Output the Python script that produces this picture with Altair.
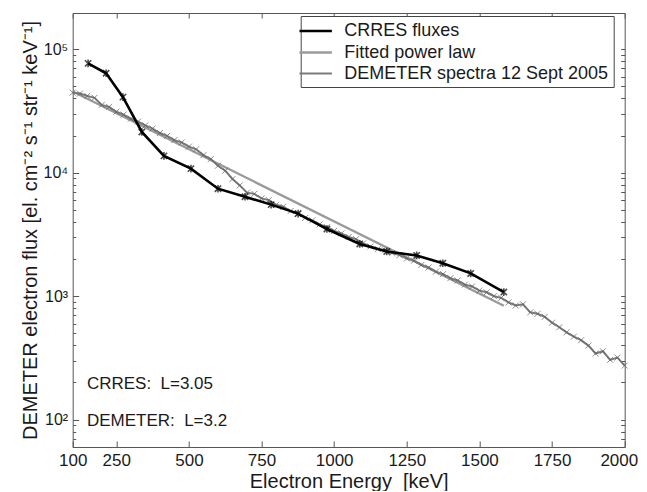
import altair as alt
import pandas as pd

SERIES = ["CRRES fluxes", "Fitted power law", "DEMETER spectra 12 Sept 2005"]
COLORS = ["#000000", "#9a9a9a", "#7a7a7a"]
WIDTHS = [2.6, 2.0, 1.1]

CRRES_E = [153, 215, 273, 338, 414, 507, 600, 693, 783, 876, 975, 1088, 1181, 1284, 1374, 1470, 1584]
CRRES_F = [77000, 64000, 41000, 21400, 13700, 10800, 7430, 6400, 5520, 4670, 3500, 2650, 2300, 2140, 1850, 1530, 1080]

FIT_E = [100, 1584]
FIT_F = [45500, 838]

DEM_E = [100, 125, 150, 175, 200, 225, 250, 275, 300, 325, 350, 375, 400, 425, 450,
         475, 500, 525, 550, 575, 600, 625, 650, 675, 700, 725, 750, 775, 800, 825,
         850, 875, 900, 925, 950, 975, 1000, 1025, 1050, 1075, 1100, 1125, 1150, 1175,
         1200, 1225, 1250, 1275, 1300, 1325, 1350, 1375, 1400, 1425, 1450, 1475, 1500,
         1525, 1550, 1575, 1600, 1625, 1650, 1675, 1700, 1725, 1750, 1775, 1800, 1825,
         1850, 1875, 1900, 1925, 1950, 1975, 2000]
DEM_F = [44600, 43800, 42000, 40500, 35500, 34200, 31200, 29600, 27400, 26000,
         24200, 22800, 21000, 19900, 18400, 17600, 16300, 15500, 13900, 12900,
         11400, 10400, 8900, 7900, 6900, 6750, 6200, 6000, 5500, 5300,
         4900, 4650, 4300, 4120, 3820, 3620, 3380, 3230, 3020, 2900,
         2680, 2530, 2410, 2350, 2240, 2150, 2020, 1940, 1790, 1710,
         1580, 1510, 1400, 1340, 1240, 1200, 1110, 1075, 1000, 970,
         890, 840, 860, 740, 720, 680, 610, 560, 510, 470,
         440, 398, 343, 358, 305, 318, 274]

X_TICKS = [100, 250, 500, 750, 1000, 1250, 1500, 1750, 2000]
Y_TICKS = [100, 1000, 10000, 100000]
Y_TICK_LABELS = ["10²", "10³", "10⁴", "10⁵"]
Y_MINOR = [60, 70, 80, 90, 200, 300, 400, 500, 600, 700, 800, 900,
           2000, 3000, 4000, 5000, 6000, 7000, 8000, 9000,
           20000, 30000, 40000, 50000, 60000, 70000, 80000, 90000]

NOTE_TEXT = ["CRRES:\u00a0 L=3.05", "DEMETER:\u00a0 L=3.2"]
NOTE_E = [149, 149]
NOTE_F = [195, 97]

FONT = "Liberation Sans"

rows = []
for e, f in zip(CRRES_E, CRRES_F):
    rows.append({"series": SERIES[0], "E": e, "F": f})
for e, f in zip(FIT_E, FIT_F):
    rows.append({"series": SERIES[1], "E": e, "F": f})
for e, f in zip(DEM_E, DEM_F):
    rows.append({"series": SERIES[2], "E": e, "F": f})
df = pd.DataFrame(rows)
notes = pd.DataFrame({"text": NOTE_TEXT, "E": NOTE_E, "F": NOTE_F})

xscale = alt.Scale(domain=[100, 2000], nice=False, zero=False)
yscale = alt.Scale(type="log", domain=[60, 197000], nice=False)

label_expr = " : ".join(
    f"datum.value == {v} ? '{t}'" for v, t in zip(Y_TICKS, Y_TICK_LABELS)
) + " : ''"

last_x = X_TICKS[-1]

legend = alt.Legend(
    title=None, orient="none", legendX=228, legendY=3,
    symbolType="M-1.8,0L1.8,0", symbolSize=324, labelFont=FONT, labelFontSize=18,
    labelColor="#1a1a1a", labelLimit=400, labelOffset=18, rowPadding=1.5,
    padding=4.5, strokeColor="#444444", fillColor="white",
)
color = alt.Color("series:N", scale=alt.Scale(domain=SERIES, range=COLORS), legend=legend)
swidth = alt.StrokeWidth("series:N", scale=alt.Scale(domain=SERIES, range=WIDTHS), legend=legend)

base = alt.Chart(df)

fit_line = base.transform_filter(alt.datum.series == SERIES[1]).mark_line().encode(
    x=alt.X("E:Q", scale=xscale, axis=alt.Axis(
        orient="bottom", values=X_TICKS, format="d", domain=False, offset=-6,
        tickSize=6, tickColor="#555", labelFont=FONT, labelFontSize=17,
        labelColor="#1a1a1a", labelPadding=6, labelFlush=False, grid=False,
        labelAlign={"condition": {"test": f"datum.value == {last_x}", "value": "right"},
                    "value": "center"},
        labelOffset={"condition": {"test": f"datum.value == {last_x}", "value": 13},
                     "value": 0},
        title="Electron Energy\u00a0 [keV]", titleFont=FONT, titleFontSize=20,
        titleFontWeight="normal", titleColor="#1a1a1a", titleBaseline="alphabetic",
        titleY=47)),
    y=alt.Y("F:Q", scale=yscale, axis=alt.Axis(
        orient="left", values=Y_TICKS, labelExpr=label_expr, domain=False,
        offset=-6, tickSize=6, tickColor="#555", labelFont=FONT, labelFontSize=16,
        labelColor="#1a1a1a", labelPadding=5, labelFlush=False, grid=False,
        title="DEMETER electron flux [el. cm⁻² s⁻¹ str⁻¹ keV⁻¹]",
        titleFont=FONT, titleFontSize=20, titleFontWeight="normal",
        titleColor="#1a1a1a", titleX=-48, titleY=217, titleAlign="center",
        titleBaseline="middle", titleAngle=270)),
    color=color, strokeWidth=swidth,
)

dem_line = base.transform_filter(alt.datum.series == SERIES[2]).mark_line().encode(
    x=alt.X("E:Q", scale=xscale, axis=alt.Axis(
        orient="top", values=X_TICKS, labels=False, domain=False, offset=-5,
        tickSize=5, tickColor="#555", grid=False, title="")),
    y=alt.Y("F:Q", scale=yscale, axis=alt.Axis(
        orient="right", values=Y_TICKS + Y_MINOR, labels=False, domain=False,
        offset=-4, tickSize=4, tickColor="#555", grid=False, title="")),
    color=color, strokeWidth=swidth,
)

crres_line = base.transform_filter(alt.datum.series == SERIES[0]).mark_line().encode(
    x=alt.X("E:Q", scale=xscale, axis=None),
    y=alt.Y("F:Q", scale=yscale, axis=alt.Axis(
        orient="left", values=Y_MINOR, labels=False, domain=False,
        offset=-3, tickSize=3, tickColor="#555", grid=False, title="")),
    color=color, strokeWidth=swidth,
)

dem_pts = base.transform_filter(alt.datum.series == SERIES[2]).mark_point(
    shape="M-1,-1L1,1M1,-1L-1,1", size=36, filled=False, strokeWidth=1.0,
    color="#5e5e5e",
).encode(
    x=alt.X("E:Q", scale=xscale, axis=None),
    y=alt.Y("F:Q", scale=yscale, axis=None),
)

crres_pts = base.transform_filter(alt.datum.series == SERIES[0]).mark_point(
    shape="M-1,-1L1,1M1,-1L-1,1M0,-1.2L0,1.2", size=40, filled=False,
    strokeWidth=1.6, color=COLORS[0],
).encode(
    x=alt.X("E:Q", scale=xscale, axis=None),
    y=alt.Y("F:Q", scale=yscale, axis=None),
)

note_layer = alt.Chart(notes).mark_text(
    align="left", baseline="middle", font=FONT, fontSize=17, color="#1a1a1a"
).encode(
    x=alt.X("E:Q", scale=xscale, axis=None),
    y=alt.Y("F:Q", scale=yscale, axis=None),
    text="text:N",
)

chart = alt.layer(
    fit_line, dem_line, dem_pts, crres_line, crres_pts, note_layer
).resolve_axis(x="independent", y="independent").properties(
    width=552, height=434,
    autosize=alt.AutoSizeParams(type="none"),
    padding={"left": 64.7, "top": 5, "right": 14, "bottom": 44},
    background="white",
).configure_view(stroke="#555555", strokeWidth=1)

chart.save("out.html", embed_options={"renderer": "svg", "actions": False})
